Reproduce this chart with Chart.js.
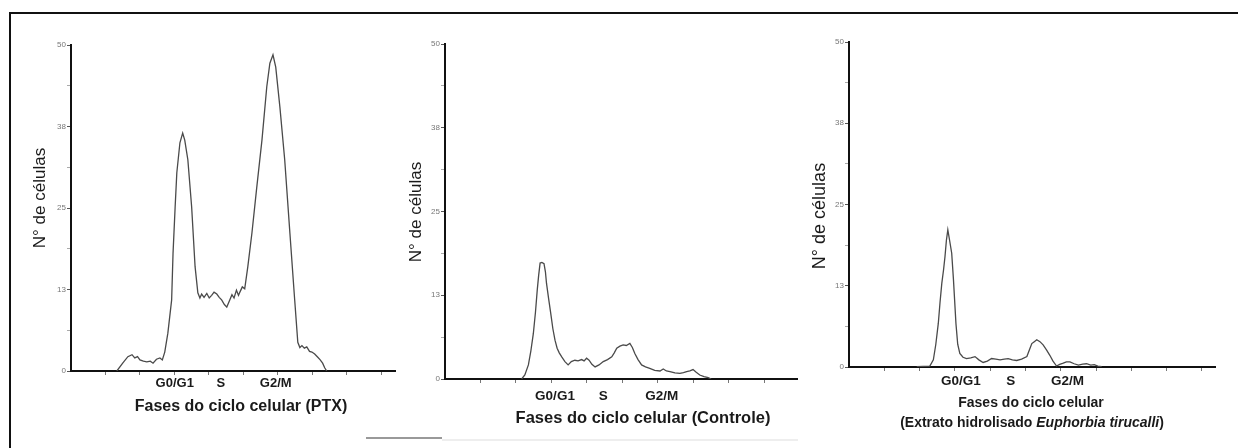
<!DOCTYPE html>
<html>
<head>
<meta charset="utf-8">
<script src="https://cdn.jsdelivr.net/npm/chart.js@4/dist/chart.umd.min.js"></script>
<style>
  body { margin: 0; background: #fff; }
  #page { position: relative; width: 1238px; height: 448px; overflow: hidden; background: #fff; }
  canvas { position: absolute; }
  .frame-top { position: absolute; left: 9px; top: 12px; width: 1229px; height: 2px; background: #111; }
  .frame-left { position: absolute; left: 9px; top: 12px; width: 2px; height: 436px; background: #111; }
  .scrap1 { position: absolute; left: 366px; top: 437px; width: 76px; height: 2px; background: #999; }
  .scrap2 { position: absolute; left: 442px; top: 439px; width: 356px; height: 2px; background: #eee; }
</style>
</head>
<body>
<div id="page">
  <div class="frame-top"></div>
  <div class="frame-left"></div>
  <div class="scrap1"></div>
  <div class="scrap2"></div>
  <canvas id="chartPtx" width="395" height="433" style="left:10px;top:15px"></canvas>
  <canvas id="chartControle" width="405" height="433" style="left:405px;top:15px"></canvas>
  <canvas id="chartExtrato" width="428" height="433" style="left:810px;top:15px"></canvas>
</div>
<script>
// tick labels on the y axis (evenly spaced, every 12.5 cells)
const yTickLabels = ['0', '13', '25', '38', '50'];
const phaseLabels = ['G0/G1', 'S', 'G2/M'];

// where the phase names sit on each x axis (channel units)
const ptxPhasePos = [30.1, 43.5, 59.4];
const controlePhasePos = [31, 44.6, 61.1];
const extratoPhasePos = [31.7, 45.8, 61.9];

// PTX histogram
const ptxChannel = [13.3, 15, 16.5, 17.7, 18.5, 19.3, 20, 21, 22, 23, 23.8, 24.8, 25.8, 26.5, 27.2, 28.1, 29.2, 29.6, 30.2, 30.7,
  31.6, 32.4, 33, 33.9, 35, 36, 36.8, 37.4, 37.9, 38.6, 39.4, 40.1, 40.8, 41.5, 42.3, 43, 43.7, 44.5, 45.2, 46,
  46.7, 47.3, 48, 48.6, 49, 49.7, 50.4, 51.3, 52.5, 53.9, 55.4, 56.8, 57.7, 58.6, 59.4, 60.6, 62, 63.5, 64.9, 65.8,
  66.4, 67, 67.7, 68.4, 69.2, 69.9, 70.7, 71.6, 72.3, 73, 73.6, 74.2];
const ptxCount = [0, 1.2, 2.2, 2.5, 2.0, 2.2, 1.7, 1.5, 1.4, 1.5, 1.2, 1.8, 2.0, 1.7, 2.9, 5.8, 10.9, 18, 25, 30.4,
  35, 36.5, 35.4, 32.4, 25.2, 16, 12, 11.2, 11.8, 11.3, 11.9, 11.2, 11.6, 12.1, 11.8, 11.3, 10.9, 10.2, 9.8, 10.8,
  11.7, 11.2, 12.4, 11.6, 12.1, 12.9, 12.6, 16, 21.2, 28.2, 35.4, 43.6, 47.2, 48.5, 46.6, 40.5, 32.4, 21.2, 10.9, 4.4,
  3.6, 3.9, 3.5, 3.7, 3.0, 2.9, 2.6, 2.1, 1.7, 1.2, 0.5, 0];

// Controle histogram
const controleChannel = [21.6, 22.5, 23.5, 24.2, 24.9, 25.5, 26, 26.4, 26.8, 27.3, 27.9, 28.3, 28.6, 29.2, 29.8, 30.4, 31, 31.6, 32.2, 32.9,
  33.8, 34.7, 35.6, 36.6, 37.5, 38.5, 39.2, 39.9, 40.6, 41.4, 42.3, 43.4, 44.6, 45.8, 47, 47.7, 48.4, 49.3, 50.2, 51.1,
  52.1, 52.8, 53.5, 54.4, 55.4, 56.5, 57.7, 59.1, 60.6, 61.5, 62.4, 63.4, 64.8, 66.2, 67.2, 68.1, 69, 69.9, 70.8, 71.8,
  73, 74.2, 75];
const controleCount = [0, 0.6, 2.1, 4.2, 6.8, 10, 13.3, 15.5, 17.3, 17.4, 17.2, 16, 14.3, 12, 9.8, 7.5, 5.8, 4.6, 3.9, 3.3,
  2.6, 2.1, 2.6, 2.8, 2.7, 2.9, 2.7, 3.1, 2.8, 2.2, 1.8, 2.1, 2.6, 2.9, 3.3, 3.9, 4.6, 4.9, 5.1, 5.0,
  5.3, 4.7, 3.8, 2.9, 2.1, 1.8, 1.6, 1.3, 1.2, 1.5, 1.2, 1.1, 0.9, 0.85, 0.95, 1.1, 1.2, 1.4, 1.0, 0.6,
  0.35, 0.2, 0];

// Extrato hidrolisado histogram
const extratoChannel = [19.2, 21, 22.9, 23.9, 24.6, 25.3, 25.8, 26.3, 26.8, 27.2, 27.6, 28, 28.5, 29.1, 29.6, 30.3, 30.8, 31.4, 32.3, 33.3,
  34.5, 35.7, 36.8, 38, 39.2, 40.4, 41.6, 42.8, 44, 45.1, 46.3, 47.5, 48.9, 50.4, 51.1, 51.8, 52.5, 53.2, 54.1, 55,
  56, 56.9, 57.8, 58.8, 59.7, 60.7, 61.6, 62.6, 63.8, 65, 66.2, 67.3, 68.5, 69.5, 70.5, 71.6];
const extratoCount = [0.05, 0.1, 0.15, 1.1, 3.5, 6.7, 10, 12.9, 15, 17, 19.5, 21.1, 19.5, 17.5, 13.4, 6.7, 3.5, 2.1, 1.5, 1.3,
  1.4, 1.6, 1.1, 0.7, 0.9, 1.3, 1.2, 1.1, 1.2, 1.3, 1.1, 1.0, 1.2, 1.6, 2.6, 3.6, 3.9, 4.2, 3.9, 3.4,
  2.6, 1.8, 0.9, 0.15, 0.4, 0.6, 0.8, 0.8, 0.5, 0.3, 0.45, 0.5, 0.3, 0.35, 0.15, 0.05];

const FONT = 'Arial, "Liberation Sans", sans-serif';

// draws free text (axis titles) at given canvas spots, supports mixed fonts in one line
const captionPlugin = {
  id: 'captions',
  afterDraw(chart, args, opts) {
    const ctx = chart.ctx;
    (opts.items || []).forEach(item => {
      ctx.save();
      ctx.translate(item.x, item.y);
      if (item.rotate) ctx.rotate(item.rotate);
      ctx.fillStyle = item.color || '#1a1a1a';
      ctx.textBaseline = 'middle';
      ctx.textAlign = 'left';
      let total = 0;
      item.parts.forEach(p => { ctx.font = p.font; total += ctx.measureText(p.text).width; });
      let x = -total / 2;
      item.parts.forEach(p => {
        ctx.font = p.font;
        ctx.fillText(p.text, x, 0);
        x += ctx.measureText(p.text).width;
      });
      ctx.restore();
    });
  }
};

function makePanel(id, channel, count, phasePos, cfg) {
  const points = channel.map((c, i) => ({ x: c, y: count[i] }));
  const decades = [];
  for (let v = 10; v < cfg.xMax; v += 10) decades.push(v);
  const isPhase = v => phasePos.indexOf(v) >= 0;

  return new Chart(document.getElementById(id), {
    type: 'line',
    data: {
      datasets: [{
        data: points,
        borderColor: '#4a4a4a',
        borderWidth: 1.3,
        pointRadius: 0,
        fill: false,
        tension: 0
      }]
    },
    options: {
      responsive: false,
      animation: false,
      layout: { padding: { left: 0, top: cfg.padTop, right: cfg.padRight, bottom: 0 } },
      plugins: {
        legend: { display: false },
        tooltip: { enabled: false },
        captions: { items: cfg.captions }
      },
      scales: {
        x: {
          type: 'linear',
          min: 0,
          max: cfg.xMax,
          afterFit: s => { s.height = cfg.xHeight; },
          afterBuildTicks: s => {
            s.ticks = decades.concat(phasePos).sort((a, b) => a - b).map(v => ({ value: v }));
          },
          ticks: {
            autoSkip: false,
            maxRotation: 0,
            padding: cfg.labelPad,
            color: '#1a1a1a',
            font: { family: FONT, size: cfg.phaseSize, weight: 'bold' },
            callback: v => isPhase(v) ? phaseLabels[phasePos.indexOf(v)] : ''
          },
          grid: {
            drawOnChartArea: false,
            tickLength: 4,
            tickColor: c => (c.tick && isPhase(c.tick.value)) ? 'rgba(0,0,0,0)' : '#777'
          },
          border: { color: '#111', width: 2 }
        },
        y: {
          type: 'linear',
          min: 0,
          max: 50,
          afterFit: s => { s.width = cfg.yWidth; },
          ticks: {
            stepSize: 6.25,
            autoSkip: false,
            padding: 1,
            color: '#777',
            font: { family: FONT, size: 8 },
            callback: v => {
              const i = v / 12.5;
              return Number.isInteger(i) ? yTickLabels[i] : '';
            }
          },
          grid: {
            drawOnChartArea: false,
            tickLength: 4,
            tickColor: c => (c.tick && Number.isInteger(c.tick.value / 12.5)) ? '#555' : '#aaa'
          },
          border: { color: '#111', width: 2 }
        }
      }
    },
    plugins: [captionPlugin]
  });
}

document.addEventListener('DOMContentLoaded', function() {
  // panel 1 - PTX (canvas at 10,15)
  makePanel('chartPtx', ptxChannel, ptxCount, ptxPhasePos, {
    xMax: 94, yWidth: 61, padTop: 30, padRight: 10, xHeight: 77, labelPad: 1, phaseSize: 13,
    captions: [
      { x: 231, y: 392, parts: [{ text: 'Fases do ciclo celular (PTX)', font: 'bold 16px ' + FONT }] },
      { x: 30, y: 183, rotate: -Math.PI / 2, parts: [{ text: 'N° de células', font: '17px ' + FONT }] }
    ]
  });

  // panel 2 - Controle (canvas at 405,15)
  makePanel('chartControle', controleChannel, controleCount, controlePhasePos, {
    xMax: 99.2, yWidth: 40, padTop: 29, padRight: 13, xHeight: 69, labelPad: 5, phaseSize: 13.5,
    captions: [
      { x: 238, y: 403, parts: [{ text: 'Fases do ciclo celular (Controle)', font: 'bold 16.5px ' + FONT }] },
      { x: 11, y: 197, rotate: -Math.PI / 2, parts: [{ text: 'N° de células', font: '17px ' + FONT }] }
    ]
  });

  // panel 3 - Extrato hidrolisado (canvas at 810,15)
  makePanel('chartExtrato', extratoChannel, extratoCount, extratoPhasePos, {
    xMax: 103.7, yWidth: 39, padTop: 27, padRight: 23, xHeight: 81, labelPad: 2, phaseSize: 13.5,
    captions: [
      { x: 221, y: 388, parts: [{ text: 'Fases do ciclo celular', font: 'bold 14px ' + FONT }] },
      { x: 222, y: 408, parts: [
        { text: '(Extrato hidrolisado ', font: 'bold 14px ' + FONT },
        { text: 'Euphorbia tirucalli', font: 'italic bold 14px ' + FONT },
        { text: ')', font: 'bold 14px ' + FONT }
      ] },
      { x: 10, y: 201, rotate: -Math.PI / 2, parts: [{ text: 'N° de células', font: '18px ' + FONT }] }
    ]
  });
});
</script>
</body>
</html>
